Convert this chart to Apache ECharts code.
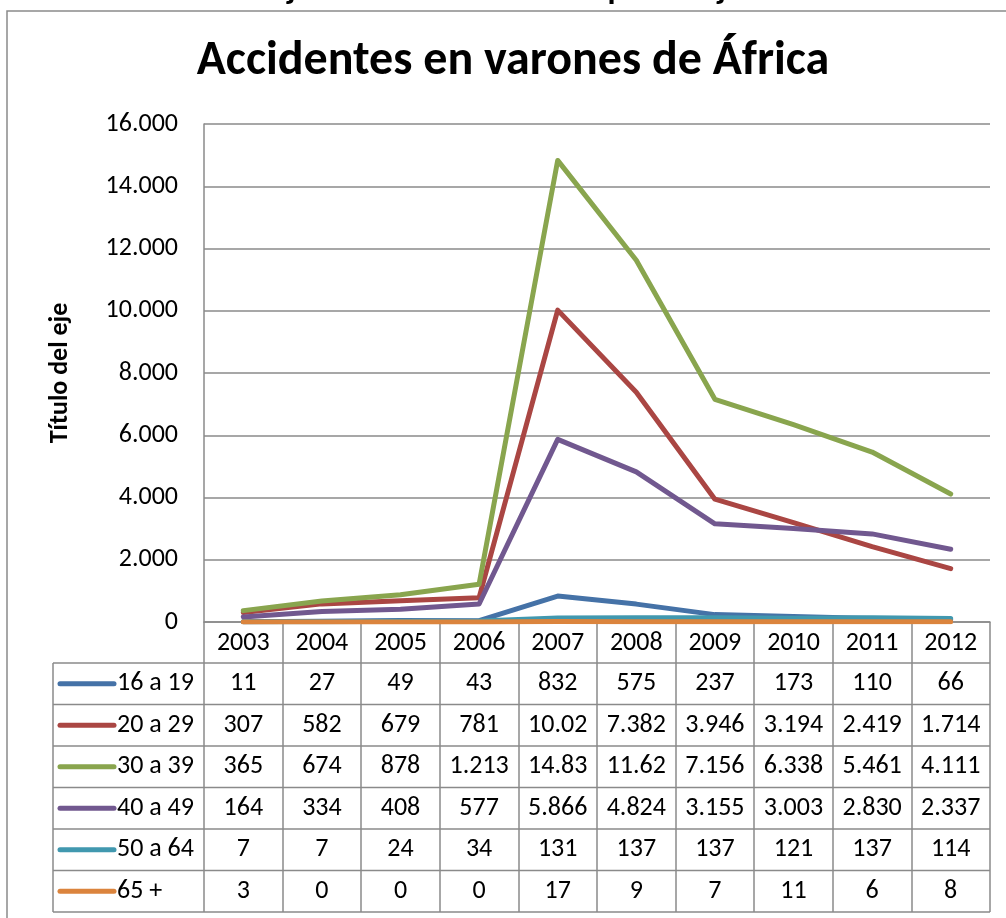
<!DOCTYPE html>
<html>
<head>
<meta charset="utf-8">
<script src="https://cdn.jsdelivr.net/npm/echarts@6/dist/echarts.min.js"></script>
<style>
html,body{margin:0;padding:0;background:#fff;}
#c{width:1006px;height:918px;}
</style>
</head>
<body>
<div id="c"></div>
<script>
var years = ['2003','2004','2005','2006','2007','2008','2009','2010','2011','2012'];
var seriesNames = ['16 a 19','20 a 29','30 a 39','40 a 49','50 a 64','65 +'];
var s16a19 = [11,27,49,43,832,575,237,173,110,66];
var s20a29 = [307,582,679,781,10020,7382,3946,3194,2419,1714];
var s30a39 = [365,674,878,1213,14830,11620,7156,6338,5461,4111];
var s40a49 = [164,334,408,577,5866,4824,3155,3003,2830,2337];
var s50a64 = [7,7,24,34,131,137,137,121,137,114];
var s65 = [3,0,0,0,17,9,7,11,6,8];
var yTicks = [0,2000,4000,6000,8000,10000,12000,14000,16000];
var titleText = 'Accidentes en varones de África';
var topCaption = 'Accidentes de trabajo en varones de África por franja de edad';
var yAxisTitle = 'Título del eje';

var allSeries = [s16a19,s20a29,s30a39,s40a49,s50a64,s65];
var colors = ['#4572A7','#AA4643','#89A54E','#71588F','#4198AF','#DB843D'];
var FONT = 'Carlito, Lato, "Open Sans", sans-serif';
var GRAY = '#8a8a8a';
var FS = 26;

function thousands(v){
  var s = String(Math.round(v));
  var out = '';
  while (s.length > 3){ out = '.' + s.slice(-3) + out; s = s.slice(0, -3); }
  return s + out;
}
function cellText(v){
  var out = thousands(v);
  if (out.length > 5) out = out.slice(0,5); // cell too narrow, clipped like the original
  return out;
}

var chart = echarts.init(document.getElementById('c'));
var option = {
  backgroundColor:'#fff',
  animation:false,
  title:{
    text:titleText, left:508, top:33, textAlign:'center',
    textStyle:{fontFamily:FONT, fontSize:48, fontWeight:'bold', color:'#000'}
  },
  grid:{left:204, right:16, top:124, bottom:296},
  xAxis:{
    type:'category', data:years, boundaryGap:true,
    axisLine:{show:true, lineStyle:{color:GRAY, width:1.5}},
    axisTick:{show:true, interval:0, length:290, lineStyle:{color:GRAY, width:1.5}},
    axisLabel:{show:true, interval:0, margin:8, fontFamily:FONT, fontSize:FS, color:'#000'},
    splitLine:{show:false}
  },
  yAxis:{
    type:'value', min:yTicks[0], max:yTicks[yTicks.length-1], interval:yTicks[1]-yTicks[0],
    name:yAxisTitle, nameLocation:'middle', nameGap:131, nameRotate:90,
    nameTextStyle:{fontFamily:FONT, fontSize:26, fontWeight:'bold', color:'#000'},
    axisLine:{show:true, lineStyle:{color:GRAY, width:1.5}},
    axisTick:{show:false},
    axisLabel:{margin:26, fontFamily:FONT, fontSize:FS, color:'#000', formatter:function(v){return thousands(v);} },
    splitLine:{show:true, lineStyle:{color:GRAY, width:1.5}}
  },
  series: allSeries.map(function(d,i){
    return {
      name:seriesNames[i], type:'line', data:d, symbol:'none',
      lineStyle:{color:colors[i], width:5, cap:'round', join:'round'},
      itemStyle:{color:colors[i]}, z:2+i
    };
  })
};
chart.setOption(option);

// Data table below the plot, positioned from the axes
var g = [];
var y0 = chart.convertToPixel({yAxisIndex:0}, 0);
var xFirst = chart.convertToPixel({xAxisIndex:0}, 0);
var xSecond = chart.convertToPixel({xAxisIndex:0}, 1);
var band = xSecond - xFirst;
var xRightPlot = chart.convertToPixel({xAxisIndex:0}, years.length-1) + band/2;
var tableLeft = 53;
var headerH = 41;
var rowH = 41.5;
var rowTop = y0 + headerH;
var nRows = seriesNames.length;

for (var k=0;k<=nRows;k++){
  var yy = rowTop + k*rowH;
  g.push({type:'line', shape:{x1:tableLeft, y1:yy, x2:xRightPlot, y2:yy}, style:{stroke:GRAY, lineWidth:1.5}, silent:true});
}
g.push({type:'line', shape:{x1:tableLeft, y1:rowTop, x2:tableLeft, y2:rowTop+nRows*rowH}, style:{stroke:GRAY, lineWidth:1.5}, silent:true});

for (var r=0;r<nRows;r++){
  var cy = rowTop + r*rowH + rowH/2;
  g.push({type:'line', shape:{x1:60, y1:cy, x2:114, y2:cy}, style:{stroke:colors[r], lineWidth:5, lineCap:'round'}, silent:true});
  g.push({type:'text', x:117, y:cy, style:{text:seriesNames[r], fontFamily:FONT, fontSize:FS, fill:'#000', textAlign:'left', textVerticalAlign:'middle'}, silent:true});
  for (var c=0;c<years.length;c++){
    var cx = chart.convertToPixel({xAxisIndex:0}, c);
    g.push({type:'text', x:cx, y:cy, style:{text:cellText(allSeries[r][c]), fontFamily:FONT, fontSize:FS, fill:'#000', textAlign:'center', textVerticalAlign:'middle'}, silent:true});
  }
}
g.push({type:'rect', shape:{x:7, y:11, width:1100, height:1000}, style:{fill:null, stroke:GRAY, lineWidth:1.5}, silent:true, z:-1});
g.push({type:'text', x:17, y:7, style:{text:topCaption, fontFamily:FONT, fontSize:33, fontWeight:'bold', fill:'#000', textAlign:'left', textVerticalAlign:'bottom'}, silent:true});

chart.setOption({graphic:g});
</script>
</body>
</html>
